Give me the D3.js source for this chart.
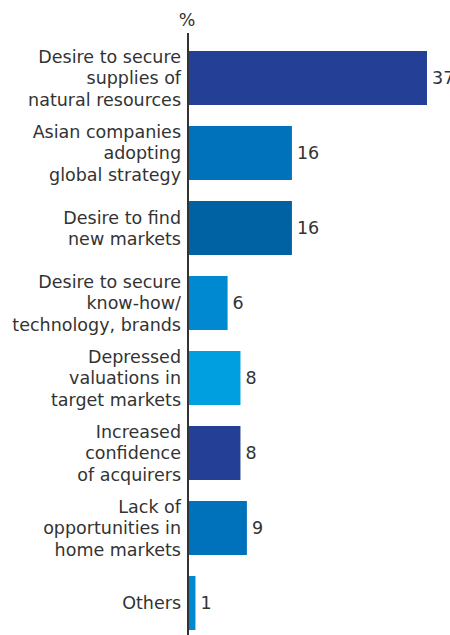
<!DOCTYPE html>
<html>
<head>
<meta charset="utf-8">
<script src="https://cdn.jsdelivr.net/npm/d3@7"></script>
<style>
  body { margin: 0; background: #fff; }
  svg text { font-family: "DejaVu Sans", sans-serif; fill: #333; }
</style>
</head>
<body>
<div id="chart"></div>
<script>
const categories = [
  ['Desire to secure', 'supplies of', 'natural resources'],
  ['Asian companies', 'adopting', 'global strategy'],
  ['Desire to find', 'new markets'],
  ['Desire to secure', 'know-how/', 'technology, brands'],
  ['Depressed', 'valuations in', 'target markets'],
  ['Increased', 'confidence', 'of acquirers'],
  ['Lack of', 'opportunities in', 'home markets'],
  ['Others']
];
const values = [37, 16, 16, 6, 8, 8, 9, 1];
const barColors = ['#233f96', '#0071bb', '#0062a3', '#0088d0', '#00a0e0', '#233f96', '#0071bb', '#0088d0'];
const unitLabel = '%';

const width = 450, height = 635;
const fontSize = '17.5px';
const svg = d3.select('#chart').append('svg')
  .attr('width', width).attr('height', height);

const x = d3.scaleLinear().domain([0, 37]).range([189, 427]);
const y = d3.scaleBand()
  .domain(d3.range(values.length))
  .range([40.5, 640.5])
  .paddingInner(0.28)
  .paddingOuter(0.14);

// bars
svg.selectAll('rect.bar')
  .data(values)
  .join('rect')
  .attr('class', 'bar')
  .attr('x', x(0))
  .attr('y', (d, i) => y(i))
  .attr('width', d => x(d) - x(0))
  .attr('height', y.bandwidth())
  .attr('fill', (d, i) => barColors[i]);

// value labels
svg.selectAll('text.val')
  .data(values)
  .join('text')
  .attr('class', 'val')
  .attr('x', d => x(d) + 5)
  .attr('y', (d, i) => y(i) + y.bandwidth() / 2)
  .attr('dy', '0.36em')
  .style('font-size', fontSize)
  .text(d => d);

// category labels
const lineH = 21.5;
categories.forEach((lines, i) => {
  const cy = y(i) + y.bandwidth() / 2;
  const t = svg.append('text')
    .attr('text-anchor', 'end')
    .style('font-size', fontSize);
  lines.forEach((ln, j) => {
    t.append('tspan')
      .attr('x', 181)
      .attr('y', cy + (j - (lines.length - 1) / 2) * lineH)
      .attr('dy', '0.36em')
      .text(ln);
  });
});

// axis line
svg.append('line')
  .attr('x1', 188).attr('x2', 188)
  .attr('y1', 33).attr('y2', height)
  .attr('stroke', '#333').attr('stroke-width', 2);

svg.append('text')
  .attr('x', 187).attr('y', 26)
  .attr('text-anchor', 'middle')
  .style('font-size', fontSize)
  .text(unitLabel);
</script>
</body>
</html>
